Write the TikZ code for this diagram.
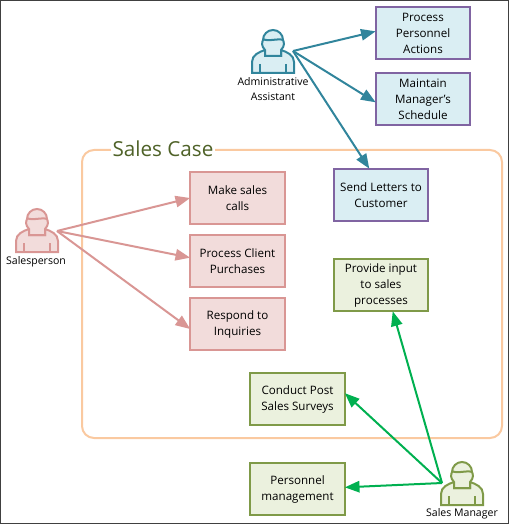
\documentclass[tikz,border=0pt]{standalone}
\usepackage{fontspec}
\setmainfont{Open Sans}
\usetikzlibrary{arrows.meta, positioning}
\definecolor{tealline}{HTML}{31859C}
\definecolor{tealfill}{HTML}{DAEEF3}
\definecolor{purpleline}{HTML}{8064A2}
\definecolor{redline}{HTML}{D99694}
\definecolor{redfill}{HTML}{F2DCDB}
\definecolor{oliveline}{HTML}{7F9A48}
\definecolor{olivefill}{HTML}{EBF1DE}
\definecolor{greenline}{HTML}{00B050}
\definecolor{caseline}{HTML}{FAC9A0}
\definecolor{casetext}{HTML}{4F6228}

\begin{document}
\begin{tikzpicture}[
    x=0.75pt, y=-0.75pt,
    node distance=7.75pt,
    block/.style={rectangle, line width=1.5pt, outer sep=0pt, inner sep=0pt, minimum width=71pt, minimum height=39.5pt, align=center, font=\fontsize{8.7}{12}\selectfont},
    tealblock/.style={block, draw=purpleline, fill=tealfill},
    redblock/.style={block, draw=redline, fill=redfill},
    greenblock/.style={block, draw=oliveline, fill=olivefill},
    actorlabel/.style={align=center, inner sep=0pt, font=\fontsize{7.9}{10.7}\selectfont},
    arrow/.style={-{Triangle[length=11pt, width=8.5pt]}, line width=1.5pt},
    actor/.pic={
        \path[pic actions] (-21,33) -- (-21,22) .. controls (-21,15) and (-14,12) .. (-8,10)
            -- (-8,16) -- (8,16) -- (8,10) .. controls (14,12) and (21,15) .. (21,22) -- (21,33) -- cycle;
        \path[pic actions] (-8,10) .. controls (-12,6) and (-11,2) .. (-10,0) arc[start angle=180, end angle=360, radius=10]
            .. controls (11,2) and (12,6) .. (8,10) -- (8,16) -- (-8,16) -- cycle;
        \draw[pic actions, fill=none] (-10,-1) .. controls (-5,2) and (5,-2) .. (10,0);
        \draw[pic actions, fill=none] (-13,24) -- (-13,33) (13,24) -- (13,33);
    }
]
\useasboundingbox (0,0) rectangle (509,524);
\draw[black!75, line width=1pt] (0.5,0.5) rectangle (508.5,523.5);

\node[rectangle, draw=caseline, line width=1.5pt, rounded corners=9pt, minimum width=315pt, minimum height=216pt] (salescase) at (292,294) {};
\node[fill=white, inner xsep=1pt, inner ysep=0pt, text=casetext, font=\fontsize{15.5}{18}\selectfont] (casetitle) at (163,149) {Sales Case};

\node[redblock] (makecalls) at (237.5,198) {Make sales\\calls};
\node[redblock, below=of makecalls] (purchases) {Process Client\\Purchases};
\node[redblock, below=of purchases] (inquiries) {Respond to\\Inquiries};

\node[tealblock] (personnel) at (423,33) {Process\\Personnel\\Actions};
\node[tealblock, below=10pt of personnel] (schedule) {Maintain\\Manager's\\Schedule};
\node[tealblock] (letters) at (381,195) {Send Letters to\\Customer};

\node[greenblock, below=28pt of letters] (input) {Provide input\\to sales\\processes};
\node[greenblock] (surveys) at (297.5,399) {Conduct Post\\Sales Surveys};
\node[greenblock, below=28pt of surveys] (management) {Personnel\\management};

\pic[draw=tealline, fill=tealfill, line width=1.5pt] at (273,40) {actor};
\pic[draw=redline, fill=redfill, line width=1.5pt] at (37,219) {actor};
\pic[draw=oliveline, fill=olivefill, line width=1.5pt] at (462,472) {actor};

\coordinate (assistant) at (293,51);
\coordinate (salesperson) at (57,231);
\coordinate (manager) at (442,483);

\node[actorlabel] (assistantlabel) at (273,89) {Administrative\\Assistant};
\node[actorlabel] (salespersonlabel) at (36,262) {Salesperson};
\node[actorlabel] (managerlabel) at (462,514) {Sales Manager};

\draw[arrow, tealline] (assistant) -- (personnel.178);
\draw[arrow, tealline] (assistant) -- (schedule.184);
\draw[arrow, tealline] (assistant) -- (letters.114);

\draw[arrow, redline] (salesperson) -- (makecalls.west);
\draw[arrow, redline] (salesperson) -- (purchases.176);
\draw[arrow, redline] (salesperson) -- (inquiries.186);

\draw[arrow, greenline] (manager) -- (input.294);
\draw[arrow, greenline] (manager) -- (surveys.7);
\draw[arrow, greenline] (manager) -- (management.2);
\end{tikzpicture}
\end{document}
